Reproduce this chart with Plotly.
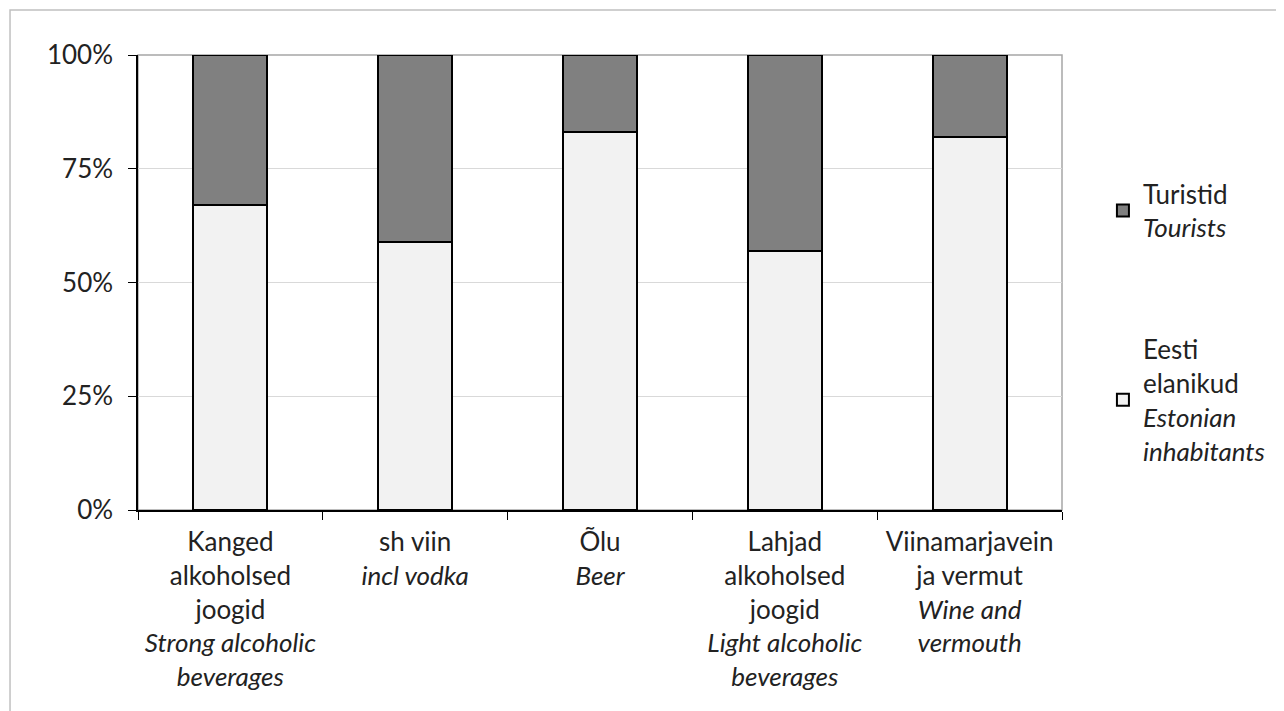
import plotly.graph_objects as go

categories = [
    'Kanged<br>alkoholsed<br>joogid<br><i>Strong alcoholic</i><br><i>beverages</i>',
    'sh viin<br><i>incl vodka</i>',
    'Õlu<br><i>Beer</i>',
    'Lahjad<br>alkoholsed<br>joogid<br><i>Light alcoholic</i><br><i>beverages</i>',
    'Viinamarjavein<br>ja vermut<br><i>Wine and</i><br><i>vermouth</i>',
]
residents = [67, 59, 83, 57, 82]
tourists = [33, 41, 17, 43, 18]
y_ticks = [0, 25, 50, 75, 100]
y_labels = ['0%', '25%', '50%', '75%', '100%']

font = dict(family='Lato', size=26, color='#222222')

fig = go.Figure()
fig.add_trace(go.Bar(x=categories, y=residents, name='Eesti<br>elanikud<br><i>Estonian</i><br><i>inhabitants</i>',
                     legendgroup='res', legendrank=2,
                     marker=dict(color='#f2f2f2', line=dict(color='black', width=2))))
fig.add_trace(go.Bar(x=categories, y=tourists, name='Turistid<br><i>Tourists</i>',
                     legendgroup='tour', legendrank=1,
                     marker=dict(color='#808080', line=dict(color='black', width=2))))

# outer frame and plot-area frame
fig.add_shape(type='rect', xref='paper', yref='paper', x0=-0.1385, y0=1.0989, x1=2, y1=-1,
              line=dict(color='#c0c0c0', width=1.5), layer='below')
fig.add_shape(type='rect', xref='paper', yref='paper', x0=0, y0=0, x1=1, y1=1,
              line=dict(color='#a6a6a6', width=1.5), layer='below')

# page body has an 8px margin, so the margins are shifted to compensate
fig.update_layout(
    barmode='stack', bargap=0.6,
    width=1284, height=711,
    margin=dict(l=130, r=230, t=47, b=209, autoexpand=False),
    paper_bgcolor='white', plot_bgcolor='white',
    font=font,
    legend=dict(x=1.0443, y=0.413, xanchor='left', yanchor='middle', traceorder='grouped',
                tracegroupgap=85, valign='middle', font=font, bgcolor='rgba(0,0,0,0)'),
    xaxis=dict(showline=True, linecolor='black', linewidth=1.5, ticks='outside', tickson='boundaries',
               ticklen=8, tickcolor='black', tickfont=font, showgrid=False, automargin=False,
               ticklabelstandoff=8),
    yaxis=dict(range=[0, 100], tickvals=y_ticks, ticktext=y_labels, showline=True, linecolor='black',
               linewidth=1.5, ticks='outside', ticklen=8, tickcolor='black', tickfont=font,
               showgrid=True, gridcolor='#d9d9d9', gridwidth=1, zeroline=False, automargin=False,
               ticklabelstandoff=10),
)

fig.write_html('out.html')
